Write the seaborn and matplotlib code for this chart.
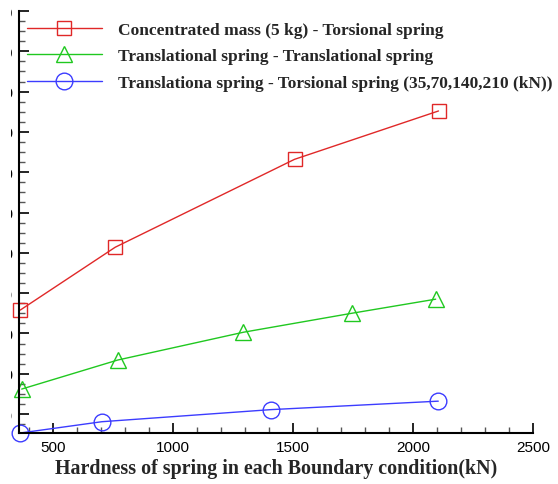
import matplotlib
matplotlib.use("Agg")
import matplotlib.pyplot as plt
import seaborn as sns
import pandas as pd
from matplotlib.transforms import Bbox
from matplotlib.ticker import MultipleLocator

# ---- data ----
red_x = [362, 758, 1505, 2105]
red_y = [35.8, 51.4, 73.2, 85.2]
green_x = [368, 768, 1292, 1743, 2093]
green_y = [16.2, 23.4, 30.3, 35.0, 38.5]
blue_x = [362, 702, 1407, 2104]
blue_y = [5.3, 8.1, 11.1, 13.2]

labels = ["Concentrated mass (5 kg) - Torsional spring",
          "Translational spring - Translational spring",
          "Translationa spring - Torsional spring (35,70,140,210 (kN))"]
xlabel = "Hardness of spring in each Boundary condition(kN)"
x_ticks = [500, 1000, 1500, 2000, 2500]
y_ticks = [10, 20, 30, 40, 50, 60, 70, 80, 90, 100, 110]

sns.set_theme(style="white")
plt.rcParams["font.family"] = ["Liberation Sans", "DejaVu Sans"]

W, H = 558, 485
fig = plt.figure(figsize=(W / 100, H / 100), dpi=100)
ax = fig.add_axes([19.3 / W, (H - 434) / H, (533.3 - 19.3) / W, (434 - 12) / H])

series = [
    (red_x, red_y, "#e02828", "s", 9.5, labels[0]),
    (green_x, green_y, "#20c820", "^", 11, labels[1]),
    (blue_x, blue_y, "#3c3cff", "o", 12, labels[2]),
]
for xs, ys, col, mk, ms, lab in series:
    df = pd.DataFrame({"x": xs, "y": ys})
    sns.lineplot(data=df, x="x", y="y", ax=ax, color=col, marker=mk,
                 markersize=ms, markerfacecolor="none", markeredgecolor=col,
                 markeredgewidth=1.0, linewidth=1.0, label=lab, clip_on=False,
                 sort=False)

ax.set_xlim(358, 2500)
ax.set_ylim(5.3, 110)
ax.set_xticks(x_ticks)
ax.set_xticklabels([str(t) for t in x_ticks])
ax.set_yticks(y_ticks)
ax.set_yticklabels([str(t) for t in y_ticks])
ax.xaxis.set_minor_locator(MultipleLocator(100))
ax.yaxis.set_minor_locator(MultipleLocator(2.5))

for s in ["top", "right"]:
    ax.spines[s].set_visible(False)
for s in ["left", "bottom"]:
    ax.spines[s].set_color("black")
    ax.spines[s].set_linewidth(1.5)

ax.tick_params(axis="both", which="major", direction="in", length=7, width=1.2,
               color="black", labelsize=11, labelcolor="black")
ax.tick_params(axis="both", which="minor", direction="in", length=4, width=1.0,
               color="#555555")
ax.tick_params(axis="x", which="major", pad=5)
ax.tick_params(axis="y", which="major", pad=4.5)
ax.tick_params(left=True, bottom=True, which="both")

ax.set_xlabel(xlabel, fontsize=14.4, fontweight="bold",
              family=["Liberation Serif", "DejaVu Serif"], labelpad=3)
ax.set_ylabel("")

leg = ax.legend(loc="upper left", bbox_to_anchor=(27 / W, 1 - 22.5 / H),
                bbox_transform=fig.transFigure, frameon=False,
                prop={"family": ["Liberation Serif", "DejaVu Serif"],
                      "weight": "bold", "size": 12.5},
                handlelength=4.3, handletextpad=0.95, labelspacing=0.6,
                borderpad=0, borderaxespad=0)

# y tick labels are cut off by the left edge in the reference: show slivers only
clip = Bbox.from_extents(10.5, 0, 13.5, H)
for lbl in ax.get_yticklabels():
    lbl.set_clip_on(True)
    lbl.set_clip_box(clip)

fig.savefig("out.png", dpi=100)
